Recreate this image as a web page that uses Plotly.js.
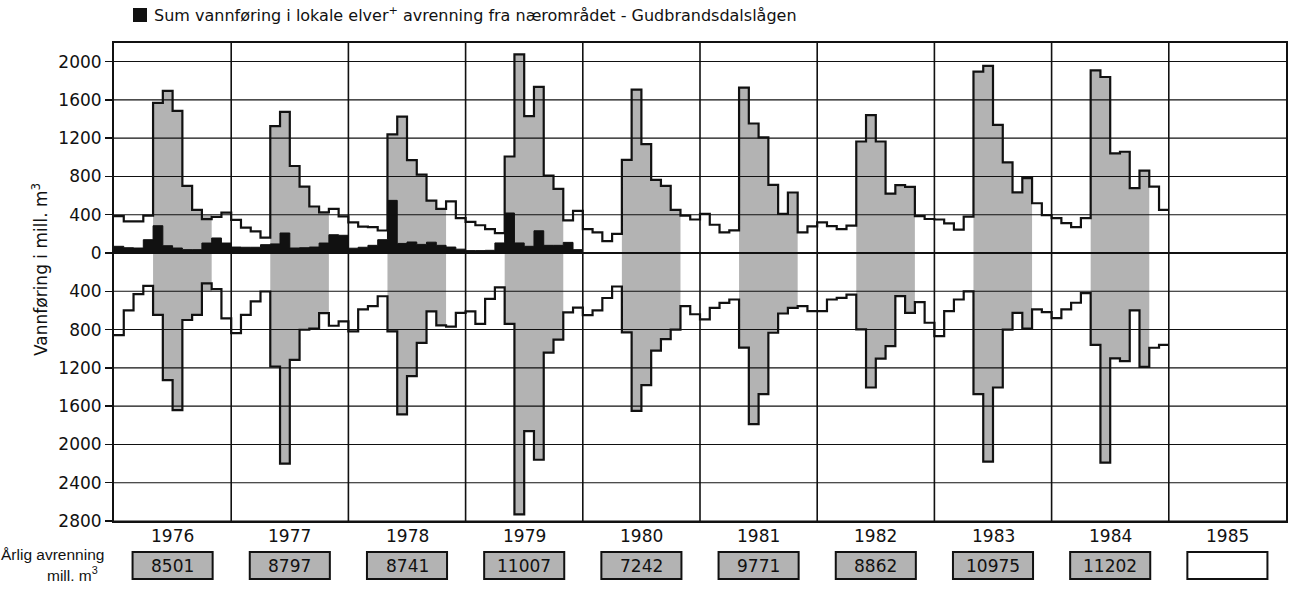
<!DOCTYPE html>
<html><head><meta charset="utf-8">
<script src="https://cdn.plot.ly/plotly-3.0.1.min.js"></script>
<style>html,body{margin:0;padding:0;background:#fff;}#chart{width:1294px;height:591px;}</style>
</head><body><div id="chart"></div>
<script>
// ---- data (mill. m3 per month) ----
const years = [1976, 1977, 1978, 1979, 1980, 1981, 1982, 1983, 1984, 1985];
const annualRunoff = ["8501", "8797", "8741", "11007", "7242", "9771", "8862", "10975", "11202", ""];

// Upper step line (tilsig), Jan..Dec
const upper1976 = [385, 330, 330, 390, 1568, 1693, 1485, 701, 451, 354, 378, 422];
const upper1977 = [347, 265, 225, 160, 1325, 1475, 909, 694, 486, 425, 460, 383];
const upper1978 = [320, 275, 270, 235, 1240, 1425, 970, 818, 548, 460, 540, 365];
const upper1979 = [325, 290, 250, 208, 1008, 2075, 1430, 1735, 808, 670, 340, 440];
const upper1980 = [250, 215, 125, 200, 972, 1707, 1138, 763, 701, 451, 390, 350];
const upper1981 = [409, 295, 215, 236, 1728, 1353, 1208, 712, 409, 632, 215, 278];
const upper1982 = [320, 280, 250, 285, 1165, 1440, 1165, 620, 710, 690, 385, 355];
const upper1983 = [350, 310, 245, 380, 1895, 1954, 1339, 946, 633, 782, 520, 395];
const upper1984 = [365, 313, 271, 365, 1908, 1839, 1040, 1058, 677, 861, 694, 451];

// Lower (mirrored) step line, Jan..Dec
const lower1976 = [857, 600, 430, 343, 646, 1328, 1642, 700, 646, 317, 378, 683];
const lower1977 = [837, 646, 506, 402, 1186, 2200, 1116, 802, 790, 628, 760, 715];
const lower1978 = [818, 588, 556, 452, 818, 1687, 1287, 939, 609, 756, 770, 626];
const lower1979 = [610, 740, 480, 360, 740, 2730, 1860, 2160, 1040, 905, 620, 570];
const lower1980 = [650, 600, 470, 350, 830, 1650, 1380, 1020, 900, 800, 555, 640];
const lower1981 = [694, 573, 521, 486, 989, 1787, 1475, 833, 632, 573, 555, 607];
const lower1982 = [607, 486, 469, 434, 798, 1405, 1103, 972, 451, 625, 514, 729];
const lower1983 = [868, 607, 486, 400, 1474, 2180, 1405, 800, 625, 790, 590, 617];
const lower1984 = [680, 590, 520, 420, 960, 2190, 1100, 1130, 600, 1190, 990, 960];

// Sum of local rivers + runoff from nearby area (black), Jan..Dec
const local1976 = [70, 55, 52, 139, 285, 76, 52, 35, 35, 104, 157, 104];
const local1977 = [62, 60, 60, 87, 95, 209, 52, 55, 62, 104, 191, 185];
const local1978 = [50, 60, 80, 139, 550, 100, 115, 90, 113, 80, 62, 40];
const local1979 = [25, 25, 28, 105, 418, 105, 70, 232, 80, 80, 111, 35];

const upperTicks = [0, 400, 800, 1200, 1600, 2000];
const lowerTicks = [400, 800, 1200, 1600, 2000, 2400, 2800];

// ---- build ----
const upperSeries = [upper1976, upper1977, upper1978, upper1979, upper1980, upper1981, upper1982, upper1983, upper1984].flat();
const lowerSeries = [lower1976, lower1977, lower1978, lower1979, lower1980, lower1981, lower1982, lower1983, lower1984].flat();
const localSeries = [local1976, local1977, local1978, local1979].flat();

const GRAY = '#b3b3b3';
const INK = '#111111';
const SUMMER_FIRST = 4, SUMMER_LAST = 9, BAND = 400;

function stepX(n) { return Array.from({length: n + 1}, (_, i) => i); }
function stepY(arr, sign) { const y = arr.map(v => sign * v); y.push(y[y.length - 1]); return y; }

const traces = [];
const nYearsData = upperSeries.length / 12;
for (let yi = 0; yi < nYearsData; yi++) {
  const xs = [], ys = [];
  for (let m = SUMMER_FIRST; m <= SUMMER_LAST; m++) {
    const k = 12 * yi + m, t = Math.max(BAND, upperSeries[k]);
    xs.push(k, k + 1); ys.push(t, t);
  }
  for (let m = SUMMER_LAST; m >= SUMMER_FIRST; m--) {
    const k = 12 * yi + m, b = Math.max(BAND, lowerSeries[k]);
    xs.push(k + 1, k); ys.push(-b, -b);
  }
  traces.push({type: 'scatter', x: xs, y: ys, mode: 'lines', fill: 'toself', fillcolor: GRAY,
    line: {width: 0, color: GRAY}, hoverinfo: 'skip', showlegend: false});
}
traces.push({type: 'scatter', x: stepX(localSeries.length), y: stepY(localSeries, 1), mode: 'lines',
  line: {shape: 'hv', color: INK, width: 1}, fill: 'tozeroy', fillcolor: INK, showlegend: false});
traces.push({type: 'scatter', x: stepX(upperSeries.length), y: stepY(upperSeries, 1), mode: 'lines',
  line: {shape: 'hv', color: INK, width: 2.2}, showlegend: false});
traces.push({type: 'scatter', x: stepX(lowerSeries.length), y: stepY(lowerSeries, -1), mode: 'lines',
  line: {shape: 'hv', color: INK, width: 2.2}, showlegend: false});

const tickvals = upperTicks.concat(lowerTicks.map(v => -v));
const ticktext = upperTicks.concat(lowerTicks).map(String);

// geometry helpers (plot area in px)
const PL = 114, PR = 1286, PT = 43, PB = 521;
const px2x = p => (p - PL) / (PR - PL);
const px2y = p => (PB - p) / (PB - PT);

const shapes = [];
tickvals.forEach(v => shapes.push({type: 'line', xref: 'paper', yref: 'y', x0: 0, x1: 1, y0: v, y1: v,
  line: {color: INK, width: v === 0 ? 2 : 1.1}, layer: 'above'}));
years.forEach((yr, i) => { if (i > 0) shapes.push({type: 'line', xref: 'x', yref: 'paper', x0: 12 * i, x1: 12 * i, y0: 0, y1: 1,
  line: {color: INK, width: 1.6}, layer: 'above'}); });
years.forEach((yr, i) => shapes.push({type: 'rect', xref: 'x', yref: 'paper', x0: 12 * i + 6 - 4.1, x1: 12 * i + 6 + 4.1,
  y0: px2y(579), y1: px2y(552), fillcolor: annualRunoff[i] ? GRAY : '#ffffff', line: {color: INK, width: 2}}));
// legend square
shapes.push({type: 'rect', xref: 'paper', yref: 'paper', x0: px2x(133), x1: px2x(147), y0: px2y(22), y1: px2y(8),
  fillcolor: INK, line: {color: INK, width: 0}});

const annotations = [];
annotations.push({xref: 'paper', yref: 'paper', x: px2x(152), y: px2y(15), xanchor: 'left', yanchor: 'middle', showarrow: false,
  text: 'Sum vannføring i lokale elver<sup>+</sup> avrenning fra nærområdet - Gudbrandsdalslågen', font: {size: 16, color: INK}});
annotations.push({xref: 'paper', yref: 'paper', x: px2x(40), y: px2y(270), xanchor: 'center', yanchor: 'middle', showarrow: false,
  textangle: -90, text: 'Vannføring i mill. m<sup>3</sup>', font: {size: 17, color: INK}});
years.forEach((yr, i) => {
  annotations.push({xref: 'x', yref: 'paper', x: 12 * i + 6, y: px2y(536), xanchor: 'center', yanchor: 'middle', showarrow: false,
    text: String(yr), font: {size: 17, color: INK}});
  if (annualRunoff[i]) annotations.push({xref: 'x', yref: 'paper', x: 12 * i + 6, y: px2y(565.5), xanchor: 'center', yanchor: 'middle', showarrow: false,
    text: annualRunoff[i], font: {size: 17, color: INK}});
});
annotations.push({xref: 'paper', yref: 'paper', x: px2x(106), y: px2y(554), xanchor: 'right', yanchor: 'middle', showarrow: false,
  text: 'Årlig avrenning', font: {family: 'Liberation Sans, Arial, sans-serif', size: 15.5, color: INK}});
annotations.push({xref: 'paper', yref: 'paper', x: px2x(100), y: px2y(574), xanchor: 'right', yanchor: 'middle', showarrow: false,
  text: 'mill. m<sup>3</sup>', font: {family: 'Liberation Sans, Arial, sans-serif', size: 15.5, color: INK}});

const layout = {
  width: 1294, height: 591,
  margin: {l: PL, r: 1294 - PR, t: PT, b: 591 - PB},
  paper_bgcolor: '#ffffff', plot_bgcolor: '#ffffff', showlegend: false,
  font: {family: 'DejaVu Sans, sans-serif', size: 17, color: INK},
  xaxis: {range: [0, 12 * years.length], showgrid: false, zeroline: false, showticklabels: false, ticks: '',
    showline: true, mirror: true, linecolor: INK, linewidth: 2, fixedrange: true},
  yaxis: {range: [-2800, 2194], tickmode: 'array', tickvals: tickvals, ticktext: ticktext, ticks: 'outside', ticklen: 7,
    tickwidth: 1.5, tickcolor: INK, showgrid: false, zeroline: false, showline: true, mirror: true, linecolor: INK,
    linewidth: 2, tickfont: {size: 17, color: INK}, fixedrange: true},
  shapes: shapes, annotations: annotations
};
Plotly.newPlot('chart', traces, layout, {displayModeBar: false, staticPlot: true});
</script></body></html>
